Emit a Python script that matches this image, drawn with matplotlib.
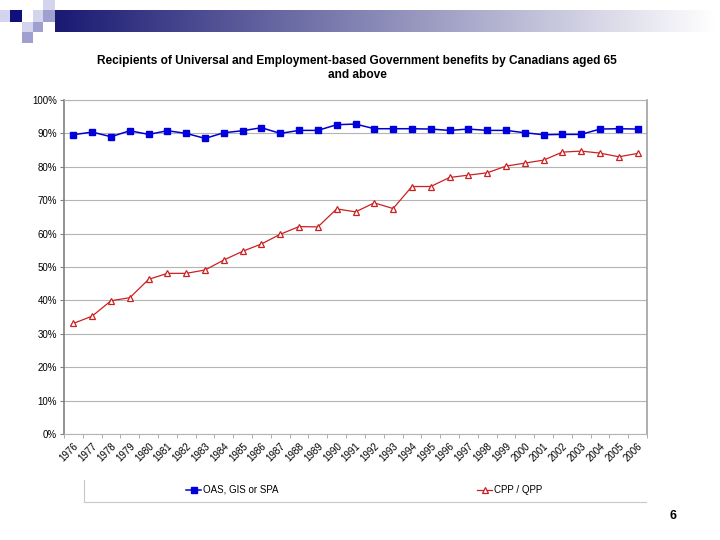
import numpy as np
import matplotlib
matplotlib.use("Agg")
import matplotlib.pyplot as plt
from matplotlib.lines import Line2D
from matplotlib.patches import Rectangle

plt.rcParams['font.family'] = ['Liberation Sans', 'DejaVu Sans']

years = [str(y) for y in range(1976, 2007)]
oas = [89.6, 90.4, 89.0, 90.8, 89.7, 90.8, 90.0, 88.5, 90.2, 90.8,
       91.7, 90.0, 90.9, 90.9, 92.6, 92.8, 91.4, 91.4, 91.4, 91.3,
       90.9, 91.3, 90.9, 90.9, 90.2, 89.6, 89.7, 89.7, 91.3, 91.4, 91.3]
cpp = [33.1, 35.3, 39.9, 40.8, 46.3, 48.1, 48.1, 49.1, 52.1, 54.7,
       56.9, 59.8, 62.1, 62.0, 67.4, 66.5, 69.2, 67.5, 74.1, 74.1,
       76.8, 77.5, 78.2, 80.2, 81.1, 82.0, 84.4, 84.7, 84.1, 83.0, 84.0]
yticks = [0, 10, 20, 30, 40, 50, 60, 70, 80, 90, 100]

W, H = 720, 540
fig = plt.figure(figsize=(7.2, 5.4), dpi=100)

# slide decoration: squares and gradient bar
deco = fig.add_axes([0, 0, 1, 1], zorder=-1)
deco.set_xlim(0, W)
deco.set_ylim(H, 0)
deco.axis('off')
grad = np.linspace(0, 1, 256)
c0 = np.array([0.10, 0.10, 0.45])
c1 = np.array([1.0, 1.0, 1.0])
img = (c0[None, :] * (1 - grad[:, None]) + c1[None, :] * grad[:, None])[None, :, :]
deco.imshow(img, extent=[55, 715, 32, 10], aspect='auto')
pale = '#d4d4ec'
mid = '#9f9fd0'
dark = '#10107a'
for (x0, y0, x1, y1, c) in [(0, 10, 10, 22, pale), (10, 10, 22, 22, dark),
                            (33, 10, 43, 22, pale), (43, 0, 55, 10, pale),
                            (43, 10, 55, 22, mid), (22, 22, 33, 32, pale),
                            (33, 22, 43, 32, mid), (22, 32, 33, 43, mid)]:
    deco.add_patch(Rectangle((x0, y0), x1 - x0, y1 - y0, color=c, lw=0))

# legend frame (left and bottom only)
deco.add_line(Line2D([84, 84], [480, 502], color='#c8c8c8', lw=0.8))
deco.add_line(Line2D([84, 646], [502, 502], color='#c8c8c8', lw=0.8))

ax = fig.add_axes([64 / W, 1 - 434 / H, 583 / W, 334 / H])
x = np.arange(len(years))
l1, = ax.plot(x, oas, color='#0000cc', lw=1.1, marker='s', markersize=5,
              markerfacecolor='#0000dd', markeredgecolor='#0000dd', label='OAS, GIS or SPA')
l2, = ax.plot(x, cpp, color='#cc2020', lw=0.9, marker='^', markersize=4.5,
              markerfacecolor='white', markeredgecolor='#cc2020', markeredgewidth=0.9,
              label='CPP / QPP')

ax.set_xlim(-0.5, len(years) - 0.5)
ax.set_ylim(0, 100)
ax.set_yticks(yticks)
ax.set_yticklabels([f'{v}%' for v in yticks], fontsize=7)
ax.yaxis.grid(True, color='#b4b4b4', lw=0.8)
ax.set_axisbelow(True)
ax.set_xticks(x)
ax.set_xticklabels(years, rotation=45, ha='right', rotation_mode='anchor', fontsize=7)
ax.set_xticks(np.arange(-0.5, len(years), 1), minor=True)
ax.tick_params(axis='x', which='major', length=0, pad=5)
ax.tick_params(axis='x', which='minor', length=3, color='#a0a0a0')
ax.tick_params(axis='y', length=3, color='#808080', pad=2)
ax.spines['left'].set_color('#808080')
ax.spines['left'].set_linewidth(1.2)
ax.spines['bottom'].set_color('#b4b4b4')
ax.spines['right'].set_color('#a0a0a0')
ax.spines['right'].set_linewidth(1.2)
ax.spines['top'].set_color('#b4b4b4')

fig.legend(handles=[l1], loc='center left', bbox_to_anchor=(177 / W, 1 - 490 / H),
           frameon=False, fontsize=7, handlelength=1.6, handletextpad=0.2)
fig.legend(handles=[l2], loc='center left', bbox_to_anchor=(468 / W, 1 - 490 / H),
           frameon=False, fontsize=7, handlelength=1.6, handletextpad=0.2)

fig.text(357 / W, 1 - 61 / H,
         'Recipients of Universal and Employment-based Government benefits by Canadians aged 65',
         ha='center', va='center', fontsize=8.6, fontweight='bold')
fig.text(357 / W, 1 - 75 / H, 'and above', ha='center', va='center',
         fontsize=8.6, fontweight='bold')
fig.text(673 / W, 1 - 516 / H, '6', ha='center', va='center', fontsize=9, fontweight='bold')

fig.savefig('out.png', dpi=100)
